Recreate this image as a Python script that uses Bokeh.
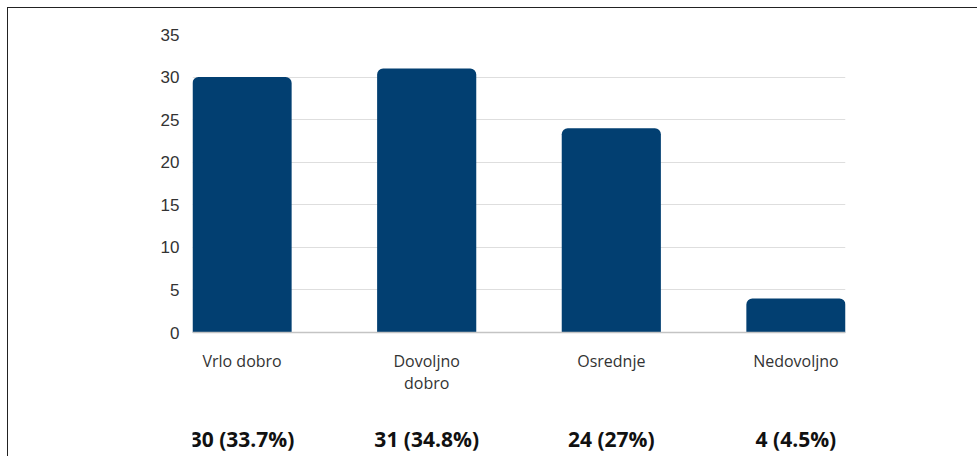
from bokeh.plotting import figure
from bokeh.models import ColumnDataSource, FixedTicker, Range1d, Span
from bokeh.core.properties import value
from bokeh.embed import file_html
from bokeh.resources import INLINE

categories = ["Vrlo dobro", "Dovoljno\ndobro", "Osrednje", "Nedovoljno"]
counts = [30, 31, 24, 4]
value_labels = ["30 (33.7%)", "31 (34.8%)", "24 (27%)", "4 (4.5%)"]
y_ticks = [0, 5, 10, 15, 20, 25, 30, 35]

xs = list(range(len(categories)))
src = ColumnDataSource(dict(x=xs, top=counts, cat=categories, lab=value_labels,
                            base=[0] * len(xs)))

BAR_W = 0.537
p = figure(width=970, height=449, output_backend="svg", toolbar_location=None,
           x_range=Range1d(-BAR_W / 2, xs[-1] + BAR_W / 2),
           y_range=Range1d(-14.68, 35),
           x_axis_location=None, min_border=0,
           min_border_left=184, min_border_right=133, min_border_top=26,
           min_border_bottom=0)
p.styles = {"border-left": "1px solid #222", "border-top": "1px solid #222",
            "margin-left": "7px", "margin-top": "7px"}
p.outline_line_color = None
p.background_fill_color = "white"
p.border_fill_color = "white"

p.xgrid.visible = False
p.ygrid.ticker = FixedTicker(ticks=y_ticks)
p.ygrid.grid_line_color = "#dedede"
p.ygrid.grid_line_width = 1.2

ax = p.yaxis[0]
ax.ticker = FixedTicker(ticks=y_ticks)
ax.axis_line_color = None
ax.major_tick_line_color = None
ax.minor_tick_line_color = None
ax.major_tick_out = 0
ax.major_tick_in = 0
ax.major_label_text_font = "Liberation Sans"
ax.major_label_text_font_size = "17px"
ax.major_label_text_color = "#333333"
ax.major_label_standoff = 13

p.vbar(x="x", top="top", width=BAR_W, source=src, fill_color="#023F71",
       line_color=None, border_radius=(6, 6, 0, 0))

p.add_layout(Span(location=0, dimension="width", line_color="#c4c4c4", line_width=1.5))

p.text(x="x", y="base", text="cat", source=src, y_offset=17,
       text_align="center", text_baseline="top",
       text_font=value("Open Sans"), text_font_size="16px",
       text_color="#333333", text_line_height=1.02)

p.text(x="x", y="base", text="lab", source=src, y_offset=106,
       text_align="center", text_baseline="middle",
       text_font=value("Open Sans"), text_font_style="bold",
       text_font_size="21px", text_color="#111111")

open("out.html", "w").write(file_html(p, INLINE))
